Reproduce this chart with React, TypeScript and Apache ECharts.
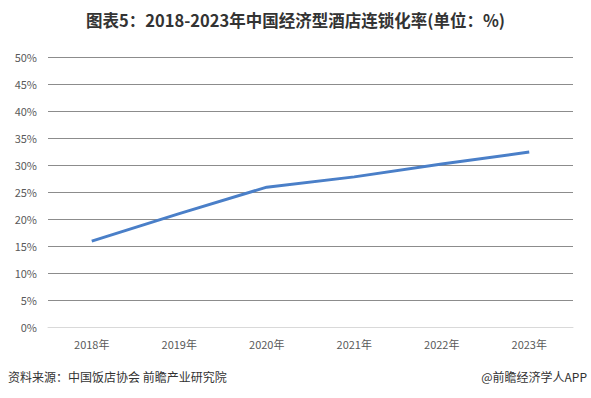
import React, { useEffect, useRef } from "react";
import * as echarts from "echarts";

const categories = ["2018年", "2019年", "2020年", "2021年", "2022年", "2023年"];
const values = [15.9, 21.0, 25.9, 27.8, 30.2, 32.4];
const yTicks = { min: 0, max: 50, interval: 5 };
const titleText = "图表5：2018-2023年中国经济型酒店连锁化率(单位：%)";
const sourceText = "资料来源：中国饭店协会 前瞻产业研究院";
const brandText = "@前瞻经济学人APP";

export default function App() {
  const ref = useRef<HTMLDivElement>(null);
  useEffect(() => {
    if (!ref.current) return;
    const chart = echarts.init(ref.current, null, { renderer: "svg" });
    const font = "'Microsoft YaHei', 'Noto Sans CJK SC', sans-serif";
    chart.setOption({
      animation: false,
      backgroundColor: "#ffffff",
      textStyle: { fontFamily: font },
      title: {
        text: titleText,
        left: "center",
        top: 7,
        textStyle: { fontSize: 16.5, fontWeight: "bold", color: "#333333", fontFamily: font },
      },
      grid: { left: 48, right: 18, top: 57, bottom: 71, containLabel: false },
      xAxis: {
        type: "category",
        data: categories,
        boundaryGap: true,
        axisLine: { show: true, lineStyle: { color: "#d9d9d9", width: 1 } },
        axisTick: { show: false },
        axisLabel: { color: "#595959", fontSize: 11, margin: 11 },
      },
      yAxis: {
        type: "value",
        min: yTicks.min,
        max: yTicks.max,
        interval: yTicks.interval,
        axisLine: { show: false },
        axisTick: { show: false },
        axisLabel: { color: "#595959", fontSize: 11, margin: 11, formatter: "{value}%" },
        splitLine: { lineStyle: { color: "#8c8c8c", width: 1 } },
      },
      series: [
        {
          type: "line",
          data: values,
          symbol: "none",
          lineStyle: { color: "#4a7fc8", width: 3 },
          itemStyle: { color: "#4a7fc8" },
          z: 5,
        },
      ],
      graphic: [
        {
          type: "text",
          left: 8,
          top: 370,
          style: { text: sourceText, fontSize: 12, fill: "#333333", fontFamily: font },
        },
        {
          type: "text",
          right: 4,
          top: 370,
          style: { text: brandText, fontSize: 12, fill: "#333333", fontFamily: font },
        },
      ],
    });
    return () => chart.dispose();
  }, []);
  return <div ref={ref} style={{ width: 591, height: 398, position: "fixed", left: 0, top: 0 }} />;
}
